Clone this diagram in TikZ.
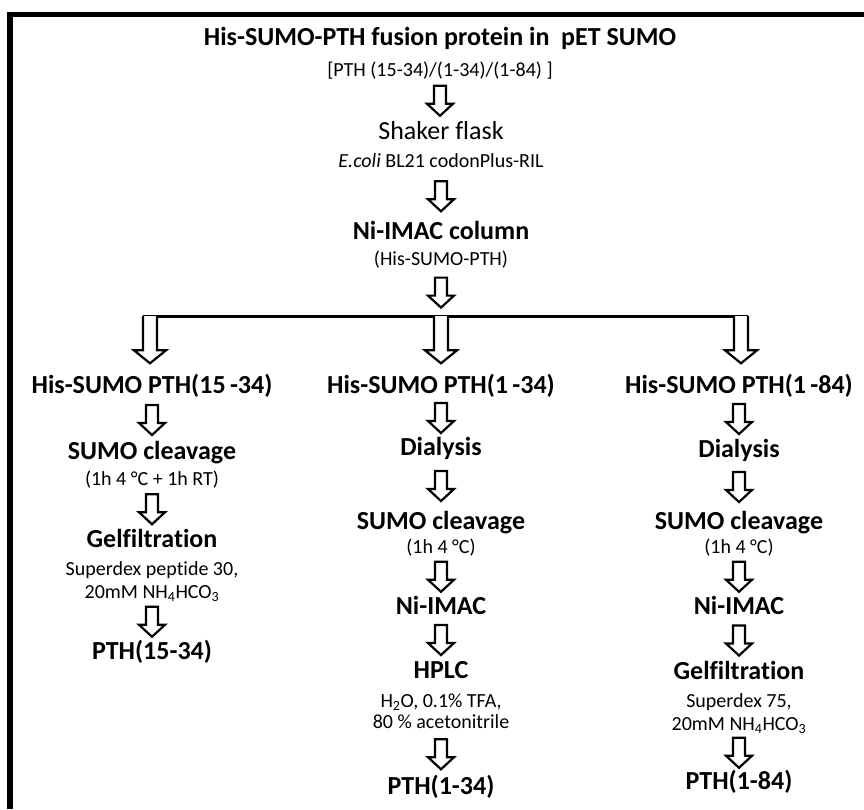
\documentclass[tikz,border=0pt]{standalone}
\usepackage{fontspec}
\setmainfont[Ligatures=NoCommon]{Carlito}
\usetikzlibrary{calc}

% hollow block arrow between two anchors (30 long, centred in the gap)
\newcommand{\flowarrow}[2]{%
  \draw[arrowbox] let \p1=(#1), \p2=($(#1)!0.5!(#2)$) in
    (\x1-6pt,\y2+15pt) -- (\x1+6pt,\y2+15pt) -- (\x1+6pt,\y2-3pt)
    -- (\x1+13pt,\y2-3pt) -- (\x1,\y2-15pt) -- (\x1-13pt,\y2-3pt)
    -- (\x1-6pt,\y2-3pt) -- cycle;}
% long block arrow hanging from the branch line
\newcommand{\splitarrow}[2]{%
  \draw[arrowbox] let \p1=(#1), \p2=($(#2)+(0,-12)$) in
    (\x1-7pt,\y1) -- (\x1-7pt,\y2+13pt) -- (\x1-16pt,\y2+13pt) -- (\x1,\y2)
    -- (\x1+16pt,\y2+13pt) -- (\x1+7pt,\y2+13pt) -- (\x1+7pt,\y1);}

\begin{document}
\begin{tikzpicture}[x=1pt,y=-1pt,
  head/.style={font=\fontsize{26}{28}\selectfont\bfseries, inner sep=0pt, text height=18pt, text depth=5pt},
  headlight/.style={font=\fontsize{26}{28}\selectfont, inner sep=0pt, text height=18pt, text depth=5pt},
  info/.style={font=\fontsize{20}{22}\selectfont, inner sep=0pt, text height=14pt, text depth=4pt},
  arrowbox/.style={draw=black, line width=2.2pt, fill=white},
  frame/.style={line width=5.5pt},
  branch/.style={line width=3pt}]
\useasboundingbox (0,0) rectangle (864,809);
\draw[frame] (10,809) -- (10,14.5) -- (864,14.5);

% common part
\node[head] (fus) at (440,39) {His-SUMO-PTH fusion protein in \ pET SUMO};
\node[info] (fus2) at (440,71) {[PTH (15-34)/(1-34)/(1-84) ]};
\node[headlight] (flask) at (441,133) {Shaker flask};
\node[info] (flask2) at (441,162) {\textit{E.coli} BL21 codonPlus-RIL};
\node[head] (nic) at (441,233) {Ni-IMAC column};
\node[info] (nic2) at (441,260) {(His-SUMO-PTH)};
\coordinate (split) at (441,316);
\coordinate (splitL) at (150,316);
\coordinate (splitR) at (741,316);
\flowarrow{fus2.south}{flask.north}
\flowarrow{flask2.south}{nic.north}
\flowarrow{nic2.south}{split}
\draw[branch] ([xshift=-7pt]splitL) -- ([xshift=7pt]splitR);

% PTH(15-34)
\node[head] (hsA) at (152,387) {His-SUMO PTH(15\,-34)};
\node[head] (cutA) at (152,453) {SUMO cleavage};
\node[info] (cutA2) at (152,480) {(1h 4 °C + 1h RT)};
\node[head] (gelA) at (152,541) {Gelfiltration};
\node[info] (gelA2) at (152,570) {Superdex peptide 30,};
\node[info] (gelA3) at (152,593) {20mM NH\textsubscript{4}HCO\textsubscript{3}};
\node[head] (pthA) at (152,653) {PTH(15-34)};
\splitarrow{splitL}{hsA.north}
\flowarrow{hsA.south}{cutA.north}
\flowarrow{cutA2.south}{gelA.north}
\flowarrow{gelA3.south}{pthA.north}

% PTH(1-34)
\node[head] (hsB) at (441,387) {His-SUMO PTH(1\,-34)};
\node[head] (dlyB) at (441,449) {Dialysis};
\node[head] (cutB) at (441,523) {SUMO cleavage};
\node[info] (cutB2) at (441,548) {(1h 4 °C)};
\node[head] (nicB) at (441,608) {Ni-IMAC};
\node[head] (hplcB) at (441,672) {HPLC};
\node[info] (hplcB2) at (441,702) {H\textsubscript{2}O, 0.1\% TFA,};
\node[info] (hplcB3) at (441,723) {80 \% acetonitrile};
\node[head] (pthB) at (441,788) {PTH(1-34)};
\splitarrow{split}{hsB.north}
\flowarrow{hsB.south}{dlyB.north}
\flowarrow{dlyB.south}{cutB.north}
\flowarrow{cutB2.south}{nicB.north}
\flowarrow{nicB.south}{hplcB.north}
\flowarrow{hplcB3.south}{pthB.north}

% PTH(1-84)
\node[head] (hsC) at (739,387) {His-SUMO PTH(1\,-84)};
\node[head] (dlyC) at (739,451) {Dialysis};
\node[head] (cutC) at (739,523) {SUMO cleavage};
\node[info] (cutC2) at (739,548) {(1h 4 °C)};
\node[head] (nicC) at (739,608) {Ni-IMAC};
\node[head] (gelC) at (739,673) {Gelfiltration};
\node[info] (gelC2) at (739,702) {Superdex 75,};
\node[info] (gelC3) at (739,725) {20mM NH\textsubscript{4}HCO\textsubscript{3}};
\node[head] (pthC) at (739,783) {PTH(1-84)};
\splitarrow{splitR}{hsC.north}
\flowarrow{hsC.south}{dlyC.north}
\flowarrow{dlyC.south}{cutC.north}
\flowarrow{cutC2.south}{nicC.north}
\flowarrow{nicC.south}{gelC.north}
\flowarrow{gelC3.south}{pthC.north}
\end{tikzpicture}
\end{document}
